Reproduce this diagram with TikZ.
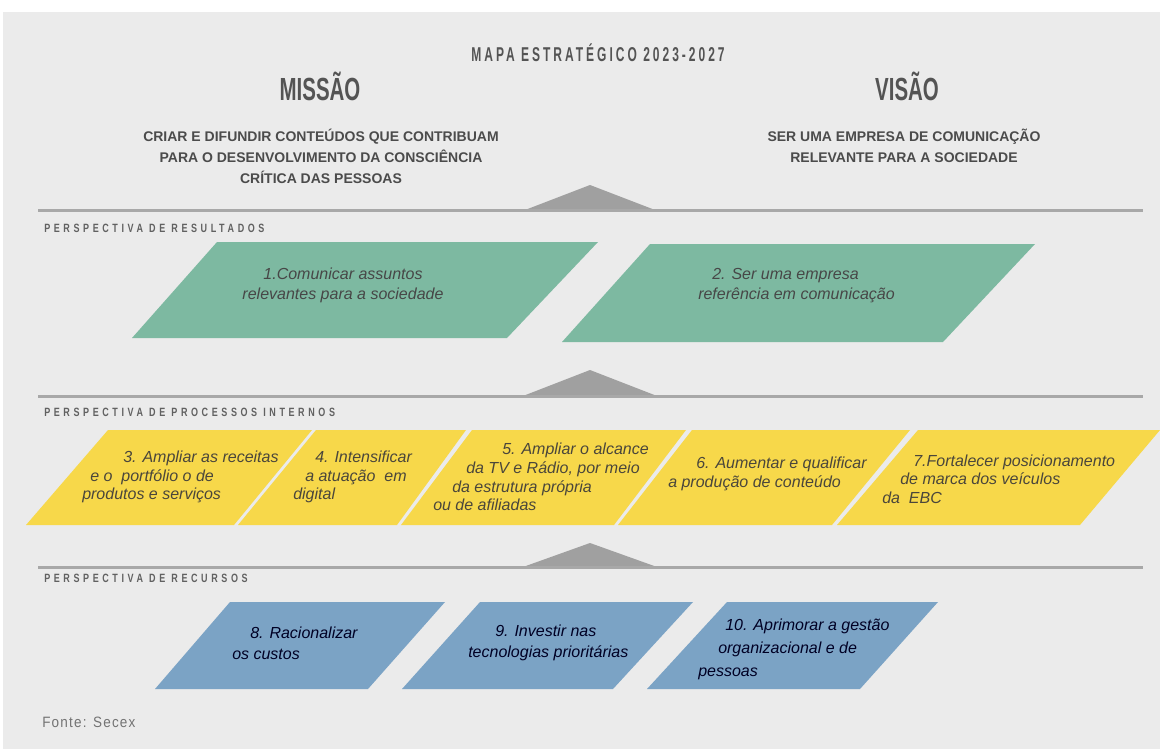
\documentclass[tikz,border=0pt]{standalone}
\usepackage{fontspec}
\setmainfont{Liberation Sans}
\newfontfamily\headFont[FakeStretch=0.64]{Liberation Sans}
\newfontfamily\titleFont[FakeStretch=0.6,LetterSpace=15]{Liberation Sans}
\newfontfamily\tagFont[FakeStretch=0.75,LetterSpace=30]{Liberation Sans}
\newfontfamily\noteFont[FakeStretch=0.9,LetterSpace=8]{Liberation Sans}
\usetikzlibrary{shapes, calc, positioning}

\definecolor{bgGray}{HTML}{EBEBEB}
\definecolor{ruleGray}{HTML}{A8A8A8}
\definecolor{headGray}{HTML}{545454}
\definecolor{boxGreen}{HTML}{7DB9A1}
\definecolor{boxYellow}{HTML}{F7D84A}
\definecolor{boxBlue}{HTML}{7BA3C5}

\tikzstyle{titleText}=[inner sep=0pt, text=headGray, font=\titleFont\bfseries\fontsize{15}{18}\selectfont]
\tikzstyle{bigHeading}=[inner sep=0pt, text=headGray, font=\headFont\bfseries\fontsize{24}{28}\selectfont]
\tikzstyle{statement}=[inner sep=0pt, align=center, text=headGray!90!black, font=\bfseries\fontsize{10.5}{15.75}\selectfont]
\tikzstyle{perspective}=[inner sep=0pt, anchor=west, text=black!62, font=\tagFont\bfseries\fontsize{9}{11}\selectfont]
\tikzstyle{divider}=[draw=ruleGray, line width=2.25pt]
\tikzstyle{pointer}=[fill=ruleGray!95!black]
\tikzstyle{resultBox}=[fill=boxGreen]
\tikzstyle{processBox}=[fill=boxYellow]
\tikzstyle{resourceBox}=[fill=boxBlue]
\tikzstyle{goal}=[inner sep=0pt, anchor=west, align=left, font=\itshape\fontsize{12}{14}\selectfont]

\begin{document}
\begin{tikzpicture}[x=0.75pt, y=-0.75pt]
    \useasboundingbox (0,0) rectangle (1160,749);
    \fill[white] (0,0) rectangle (1160,749);
    \fill[bgGray] (3,12) rectangle (1160,749);

    % header
    \node (title)[titleText] at (598,53) {MAPA ESTRATÉGICO 2023-2027};
    \node (mission)[bigHeading] at (320,86) {MISSÃO};
    \node (vision)[bigHeading] at (907,86) {VISÃO};
    \node (missionText)[statement] at (321,156) {CRIAR E DIFUNDIR CONTEÚDOS QUE CONTRIBUAM\\PARA O DESENVOLVIMENTO DA CONSCIÊNCIA\\CRÍTICA DAS PESSOAS};
    \node (visionText)[statement] at (904,146) {SER UMA EMPRESA DE COMUNICAÇÃO\\RELEVANTE PARA A SOCIEDADE};

    % dividers
    \fill[pointer] (525,210) -- (590,185) -- (655,210) -- cycle;
    \draw[divider] (38,210) -- (1143,210);
    \fill[pointer] (523,396) -- (590,370) -- (657,396) -- cycle;
    \draw[divider] (38,396) -- (1143,396);
    \fill[pointer] (523,567) -- (590,543) -- (657,567) -- cycle;
    \draw[divider] (38,567) -- (1143,567);

    \node (results)[perspective] at (44,228) {PERSPECTIVA DE RESULTADOS};
    \node (processes)[perspective] at (44,412) {PERSPECTIVA DE PROCESSOS INTERNOS};
    \node (resources)[perspective] at (44,578) {PERSPECTIVA DE RECURSOS};

    % resultados
    \fill[resultBox] (217,242) -- (598,242) -- (507,338) -- (132,338) -- cycle;
    \fill[resultBox] (650,244) -- (1035,244) -- (943,342) -- (562,342) -- cycle;
    \node (g1)[goal, anchor=center, align=center, text=black!72, font=\itshape\fontsize{12}{15}\selectfont] at (343,285) {1.Comunicar assuntos\\relevantes para a sociedade};
    \node (g2)[goal, text=black!72, font=\itshape\fontsize{12}{15}\selectfont] at (698,286) {\hspace*{10.5pt}2. Ser uma empresa\\referência em comunicação};

    % processos internos
    \fill[processBox] (108,430) -- (312,430) -- (234,525) -- (26,525) -- cycle;
    \fill[processBox] (316,430) -- (466,430) -- (397,525) -- (238,525) -- cycle;
    \fill[processBox] (472,430) -- (686,430) -- (614,525) -- (401,525) -- cycle;
    \fill[processBox] (692,430) -- (910,430) -- (832,525) -- (618,525) -- cycle;
    \fill[processBox] (918,430) -- (1160,430) -- (1080,525) -- (837,525) -- cycle;
    \node (p3)[goal, text=black!70!yellow!60!black] at (82,477) {\hspace*{30.75pt}3. Ampliar as receitas\\\hspace*{6pt}e o~ portfólio o de\\produtos e serviços};
    \node (p4)[goal, text=black!70!yellow!60!black] at (293,477) {\hspace*{16.5pt}4. Intensificar\\\hspace*{9pt}a atuação~ em\\digital};
    \node (p5)[goal, text=black!70!yellow!60!black] at (433,477) {\hspace*{51.75pt}5. Ampliar o alcance\\\hspace*{24.75pt}da TV e Rádio, por meio\\\hspace*{14.25pt}da estrutura própria\\ou de afiliadas};
    \node (p6)[goal, text=black!70!yellow!60!black] at (668,474) {\hspace*{21pt}6. Aumentar e qualificar\\a produção de conteúdo};
    \node (p7)[goal, text=black!70!yellow!60!black] at (882,479) {\hspace*{23.25pt}7.Fortalecer posicionamento\\\hspace*{13.5pt}de marca dos veículos\\da~ EBC};

    % recursos
    \fill[resourceBox] (230,602) -- (445,602) -- (368,689) -- (155,689) -- cycle;
    \fill[resourceBox] (480,602) -- (693,602) -- (613,689) -- (402,689) -- cycle;
    \fill[resourceBox] (727,602) -- (938,602) -- (860,689) -- (647,689) -- cycle;
    \node (r8)[goal, text=black!80!blue!70!black, font=\itshape\fontsize{12}{15.75}\selectfont] at (232,643) {\hspace*{13.5pt}8. Racionalizar\\os custos};
    \node (r9)[goal, text=black!80!blue!70!black, font=\itshape\fontsize{12}{15.75}\selectfont] at (468,643) {\hspace*{20.25pt}9. Investir nas\\tecnologias prioritárias};
    \node (r10)[goal, text=black!80!blue!70!black, font=\itshape\fontsize{12}{17.25}\selectfont] at (698,649) {\hspace*{20.25pt}10. Aprimorar a gestão\\\hspace*{15pt}organizacional e de\\pessoas};

    \node (source)[anchor=west, inner sep=0pt, text=black!55, font=\noteFont\fontsize{11.25}{13}\selectfont] at (42,722) {Fonte: Secex};
\end{tikzpicture}
\end{document}
